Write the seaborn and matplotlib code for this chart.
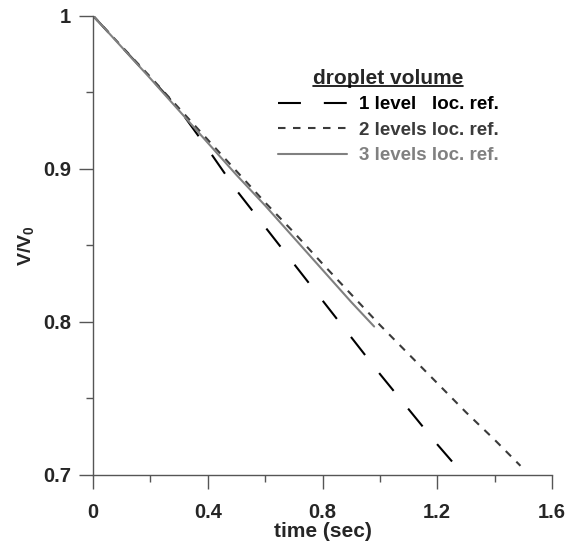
import matplotlib
matplotlib.use("Agg")
import matplotlib.pyplot as plt
import matplotlib.ticker as mticker
from matplotlib.lines import Line2D
import seaborn as sns
import pandas as pd

# ---- data ----
t_1level = [0.0, 0.1, 0.2, 0.3, 0.4, 0.5, 0.6, 0.7, 0.8, 0.9, 1.0, 1.1, 1.2, 1.26]
v_1level = [1.0, 0.9797, 0.9594, 0.939, 0.913, 0.886, 0.862, 0.838, 0.814, 0.79, 0.766, 0.743, 0.72, 0.707]

t_2levels = [0.0, 0.1, 0.2, 0.3, 0.4, 0.5, 0.6, 0.7, 0.8, 0.9, 1.0, 1.1, 1.2, 1.3, 1.4, 1.49]
v_2levels = [1.0, 0.98, 0.96, 0.9395, 0.919, 0.8985, 0.878, 0.8585, 0.838, 0.818, 0.798, 0.779, 0.760, 0.741, 0.723, 0.706]

t_3levels = [0.0, 0.1, 0.2, 0.3, 0.4, 0.5, 0.6, 0.7, 0.8, 0.9, 0.98]
v_3levels = [1.0, 0.9795, 0.959, 0.938, 0.917, 0.896, 0.876, 0.855, 0.834, 0.813, 0.797]

series_names = ["1 level   loc. ref.", "2 levels loc. ref.", "3 levels loc. ref."]
legend_title = "droplet volume"
x_ticks = [0, 0.4, 0.8, 1.2, 1.6]
y_ticks = [0.7, 0.8, 0.9, 1.0]

# ---- styling ----
sns.set_theme(style="white")
plt.rcParams["font.family"] = ["Liberation Sans", "DejaVu Sans"]
plt.rcParams["font.weight"] = "bold"
plt.rcParams["mathtext.fontset"] = "custom"
plt.rcParams["mathtext.rm"] = "Liberation Sans:bold"
plt.rcParams["mathtext.bf"] = "Liberation Sans:bold"
plt.rcParams["mathtext.it"] = "Liberation Sans:bold"

colors = {series_names[0]: "#000000", series_names[1]: "#3a3a3a", series_names[2]: "#808080"}
dashes = {series_names[0]: (11, 11), series_names[1]: (3.6, 3.6), series_names[2]: ""}

frames = []
for name, t, v in zip(series_names, [t_1level, t_2levels, t_3levels], [v_1level, v_2levels, v_3levels]):
    frames.append(pd.DataFrame({"t": t, "V": v, "series": name}))
df = pd.concat(frames, ignore_index=True)

fig = plt.figure(figsize=(5.66, 5.47), dpi=100)
ax = fig.add_axes([93 / 566, 72 / 547, (552 - 93) / 566, (475 - 15.7) / 547])

sns.lineplot(data=df, x="t", y="V", hue="series", style="series",
             palette=colors, dashes=dashes, sort=False, linewidth=1.5,
             hue_order=series_names, style_order=series_names, ax=ax)

ax.set_xlim(0, 1.6)
ax.set_ylim(0.7, 1.0)
ax.set_xticks(x_ticks)
ax.set_yticks(y_ticks)
ax.xaxis.set_minor_locator(mticker.MultipleLocator(0.2))
ax.yaxis.set_minor_locator(mticker.MultipleLocator(0.05))
fmt = mticker.FuncFormatter(lambda v, p: f"{v:g}")
ax.xaxis.set_major_formatter(fmt)
ax.yaxis.set_major_formatter(fmt)

for s in ["top", "right"]:
    ax.spines[s].set_visible(False)
for s in ["left", "bottom"]:
    ax.spines[s].set_color("#555555")
    ax.spines[s].set_linewidth(1.0)

ax.tick_params(which="major", direction="out", length=10, width=1.0, color="#555555",
               labelsize=14.5, bottom=True, left=True)
ax.tick_params(which="minor", direction="out", length=5, width=1.0, color="#555555",
               bottom=True, left=True)
ax.tick_params(axis="x", which="major", pad=10)
ax.tick_params(axis="y", which="major", pad=6)
for lab in ax.get_xticklabels() + ax.get_yticklabels():
    lab.set_fontweight("bold")

ax.set_xlabel("time (sec)", fontsize=15, fontweight="bold", labelpad=0)
ax.set_ylabel(r"$\mathbf{V/V_0}$", fontsize=14, labelpad=5)
ax.grid(False)

handles, labels = ax.get_legend_handles_labels()
leg = ax.legend(handles, labels, title=legend_title,
                loc="upper left", bbox_to_anchor=(278 / 566, 1 - 69 / 547),
                bbox_transform=fig.transFigure, frameon=False,
                fontsize=13.5, title_fontsize=15, handlelength=3.7,
                handletextpad=0.6, labelspacing=0.44, borderpad=0, borderaxespad=0)
leg.get_title().set_fontweight("bold")
for txt, name in zip(leg.get_texts(), labels):
    txt.set_color(colors.get(name, "black"))
    txt.set_fontweight("bold")

# underline the legend title
fig.canvas.draw()
bb = leg.get_title().get_window_extent().transformed(fig.transFigure.inverted())
fig.add_artist(Line2D([bb.x0, bb.x1], [bb.y0 + 0.004, bb.y0 + 0.004],
                      transform=fig.transFigure, color="black", linewidth=1.2))

fig.savefig("out.png", dpi=100)
